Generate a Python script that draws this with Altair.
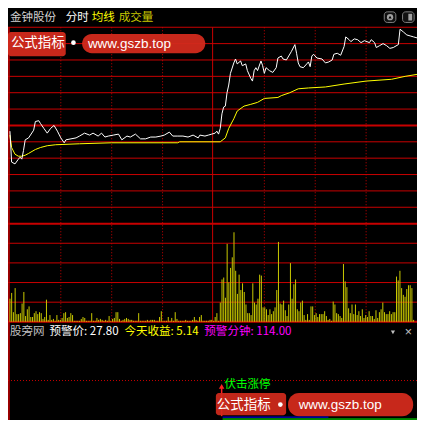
import altair as alt
import pandas as pd
import numpy as np

# ---------------- data ----------------
# minutes since 9:30 (0..240, lunch break removed) and % change vs. previous close
price_min = [0, 1, 3, 5, 6, 7, 8, 9, 11, 14, 15, 17, 18, 20, 22, 24, 26, 28, 30, 32,
             33, 36, 39, 41, 44, 47, 49, 52, 54, 56, 58, 61, 64, 66, 69, 71, 74, 77, 80, 83,
             86, 89, 91, 94, 96, 99, 102, 105, 108, 111, 112, 115, 117, 119, 121, 122, 123, 124, 125, 126,
             127, 128, 129, 130, 132, 133, 134, 136, 137, 139, 140, 142, 143, 144, 145, 146, 148, 149, 150, 151,
             153, 155, 157, 158, 160, 161, 163, 166, 168, 169, 170, 171, 173, 175, 176, 177, 178, 179, 181, 184,
             186, 188, 190, 191, 193, 195, 197, 198, 200, 201, 203, 205, 207, 209, 212, 213, 215, 216, 218, 220,
             222, 224, 226, 229, 230, 232, 234, 236, 238, 240]
price_pct = [-0.35, -2.24, -2.35, -2.06, -1.94, -2.06, -1.53, -0.88, -0.76, -0.29, 0.24, 0.29, 0.12, -0.18, -0.47, -0.18, 0.0, -0.35, -0.76, -1.06,
             -0.88, -0.82, -0.76, -0.65, -0.47, -0.59, -0.47, -0.65, -0.47, -0.71, -0.65, -0.59, -0.53, -0.88, -0.65, -0.71, -0.53, -0.82, -0.82, -0.71,
             -0.71, -0.65, -0.59, -0.41, -0.65, -0.65, -0.65, -0.71, -0.59, -0.76, -0.59, -0.65, -0.59, -0.53, -0.47, -0.35, -0.53, -0.18, 0.71, 1.12,
             1.18, 2.0, 2.47, 3.18, 3.82, 4.06, 3.76, 3.94, 3.65, 3.76, 3.35, 2.88, 2.71, 3.35, 3.53, 3.35, 3.94, 3.65, 3.18, 3.53,
             3.35, 3.24, 3.53, 4.12, 4.24, 4.06, 4.0, 4.53, 4.94, 4.41, 3.82, 3.59, 3.53, 3.76, 3.88, 3.59, 4.24, 4.35, 4.12, 4.06,
             3.82, 3.88, 4.0, 4.35, 4.41, 4.29, 4.82, 5.41, 5.24, 5.12, 5.29, 5.24, 5.06, 5.18, 5.06, 5.24, 5.06, 4.76, 4.88, 5.0,
             4.88, 4.71, 4.76, 4.94, 5.88, 5.71, 5.53, 5.47, 5.41, 5.35]

avg_min = [0, 1, 3, 5, 7, 9, 11, 15, 18, 22, 27, 41, 60, 99, 100, 124, 127, 129, 132, 134,
           138, 142, 146, 150, 158, 160, 165, 170, 176, 186, 197, 210, 225, 233, 240]
avg_pct = [-0.59, -1.35, -1.76, -1.88, -1.88, -1.82, -1.71, -1.47, -1.35, -1.24, -1.18, -1.12, -1.06, -1.06, -1.0, -1.0, -0.76, -0.18, 0.41, 0.88,
           1.18, 1.29, 1.41, 1.65, 1.71, 1.82, 2.0, 2.24, 2.29, 2.35, 2.53, 2.71, 2.82, 3.0, 3.12]

am_vol = [24, 30, 10, 35, 8, 8, 9, 19, 31, 6,
          13, 16, 5, 5, 9, 11, 8, 10, 9, 3,
          5, 23, 2, 7, 2, 3, 1, 7, 2, 2,
          4, 9, 10, 4, 5, 9, 7, 1, 1, 1, 1,
          3, 5, 4, 1, 1, 1, 9, 1, 1, 4, 2,
          3, 2, 1, 2, 1, 6, 1, 3, 4, 10, 10,
          3, 1, 2, 3, 4, 3, 2, 2, 1, 1,
          1, 9, 1, 1, 1, 1, 2, 1, 2, 2,
          2, 1, 1, 5, 11, 1, 1, 1, 5, 1, 4,
          1, 10, 3, 1, 1, 1, 1, 2, 1, 1,
          1, 2, 5, 2, 1, 5, 7, 1, 1, 1, 1, 2, 2]
pm_vol = [1, 5, 9, 1, 20, 44, 46, 25, 81, 41,
          56, 67, 93, 53, 29, 49, 33, 40, 31, 18,
          9, 9, 7, 40, 20, 18, 24, 49, 48, 15,
          15, 13, 7, 13, 8, 11, 15, 33, 83, 19,
          18, 22, 12, 6, 18, 61, 24, 39, 44, 13,
          11, 20, 22, 7, 2, 8, 2, 16, 16, 7,
          9, 5, 8, 8, 8, 11, 6, 2, 3, 1,
          21, 18, 9, 8, 6, 4, 60, 42, 36, 14,
          9, 18, 8, 18, 7, 11, 6, 13, 4, 7,
          5, 11, 6, 6, 3, 12, 4, 10, 13, 20,
          10, 8, 8, 11, 8, 10, 10, 47, 43, 53,
          35, 28, 26, 34, 38, 38, 35, 2]

stock_name = "金钟股份"
header_labels = ["分时", "均线", "成交量"]
warn_price = "27.80"
today_gain = "5.14"
warn_minutes = "114.00"
signal_label = "伏击涨停"
wm_label = "公式指标"
wm_url = "www.gszb.top"

# ---------------- layout ----------------
W, H = 409, 412
SX, SY = W / 425, H / 428


def X(v):
    return v * SX


def Y(v):
    return v * SY


CJK = "Noto Sans CJK SC"
LAT = "Liberation Sans"
RED = "#c80000"

tscale = alt.Scale(domain=[-2 * 240 / 423, 240], nice=False, zero=False)
pscale = alt.Scale(domain=[(122 - 428) / 17, 122 / 17], nice=False, zero=False)
vscale = alt.Scale(domain=[-(428 - 326), 326], nice=False, zero=False)

one = pd.DataFrame({"a": [0]})
layers = []

# horizontal grid of price panel (1 grid = 1 %)
thin_levels = pd.DataFrame({"p": [-5, -4, -3, -2, -1, 1, 2, 3, 4, 5, 6]})
thick_levels = pd.DataFrame({"p": [0, -6]})
layers.append(alt.Chart(thin_levels).mark_rule(color=RED, strokeWidth=1).encode(
    y=alt.Y("p:Q", scale=pscale, axis=None), x=alt.value(0), x2=alt.value(W)))
layers.append(alt.Chart(thick_levels).mark_rule(color=RED, strokeWidth=2).encode(
    y=alt.Y("p:Q", scale=pscale, axis=None), x=alt.value(0), x2=alt.value(W)))

# volume panel grid
vol_levels = pd.DataFrame({"v": [20.4, 40.8, 61.2, 81.6]})
layers.append(alt.Chart(vol_levels).mark_rule(color=RED, strokeWidth=1).encode(
    y=alt.Y("v:Q", scale=vscale, axis=None), x=alt.value(0), x2=alt.value(W)))
layers.append(alt.Chart(pd.DataFrame({"v": [0]})).mark_rule(color=RED, strokeWidth=2).encode(
    y=alt.Y("v:Q", scale=vscale, axis=None), x=alt.value(0), x2=alt.value(W)))

# vertical time lines
layers.append(alt.Chart(pd.DataFrame({"t": [30, 60, 90, 150, 180, 210]})).mark_rule(
    color=RED, strokeWidth=1, strokeDash=[1, 2]).encode(
    x=alt.X("t:Q", scale=tscale, axis=None), y=alt.value(Y(20)), y2=alt.value(Y(326))))
layers.append(alt.Chart(pd.DataFrame({"t": [119.5]})).mark_rule(color=RED, strokeWidth=1).encode(
    x=alt.X("t:Q", scale=tscale, axis=None), y=alt.value(Y(20)), y2=alt.value(Y(326))))

# left border and lower dotted line
layers.append(alt.Chart(one).mark_rule(color=RED, strokeWidth=1.5).encode(
    x=alt.value(X(1)), y=alt.value(Y(20)), y2=alt.value(H)))
layers.append(alt.Chart(one).mark_rule(color=RED, strokeWidth=1, strokeDash=[1, 2]).encode(
    x=alt.value(0), x2=alt.value(W), y=alt.value(Y(387))))

# volume bars
vol_df = pd.DataFrame({
    "t": np.concatenate([np.linspace(0, 119, len(am_vol)), np.linspace(120, 238, len(pm_vol))]),
    "v": am_vol + pm_vol,
})
vol_df["z"] = 0
layers.append(alt.Chart(vol_df).mark_rule(color="#c8c800", strokeWidth=1).encode(
    x=alt.X("t:Q", scale=tscale, axis=None),
    y=alt.Y("v:Q", scale=vscale, axis=None), y2="z:Q"))

# average line and price line
avg_df = pd.DataFrame({"t": avg_min, "p": avg_pct})
layers.append(alt.Chart(avg_df).mark_line(color="#ffff00", strokeWidth=1).encode(
    x=alt.X("t:Q", scale=tscale, axis=None), y=alt.Y("p:Q", scale=pscale, axis=None)))
price_df = pd.DataFrame({"t": price_min, "p": price_pct})
layers.append(alt.Chart(price_df).mark_line(color="#ffffff", strokeWidth=1).encode(
    x=alt.X("t:Q", scale=tscale, axis=None), y=alt.Y("p:Q", scale=pscale, axis=None)))


def label(txt, x, y, color, size=12, font=CJK, align="left"):
    return alt.Chart(pd.DataFrame({"s": [txt]})).mark_text(
        align=align, baseline="middle", color=color, fontSize=size * SX, font=font).encode(
        text="s:N", x=alt.value(X(x)), y=alt.value(Y(y)))


def box(x1, x2, y1, y2, fill, radius=0, stroke=None, opacity=1.0):
    kw = dict(fill=fill, cornerRadius=radius, opacity=opacity)
    if stroke:
        kw.update(stroke=stroke, strokeWidth=1)
    return alt.Chart(one).mark_rect(**kw).encode(
        x=alt.value(X(x1)), x2=alt.value(X(x2)), y=alt.value(Y(y1)), y2=alt.value(Y(y2)))


# header
layers.append(label(stock_name, 2, 10, "#d0d0d0", 12))
layers.append(label(header_labels[0], 60, 10, "#ffffff", 12))
layers.append(label(header_labels[1], 87, 10, "#ffff00", 12))
layers.append(label(header_labels[2], 115, 10, "#c8c800", 12))

# icons at top right
layers.append(box(391, 403, 4, 15, "#101010", 3, "#808080"))
layers.append(alt.Chart(one).mark_circle(color="#a0a0a0", opacity=1, size=40).encode(
    x=alt.value(X(397)), y=alt.value(Y(9.5))))
layers.append(alt.Chart(one).mark_point(shape="triangle-up", filled=True, color="#000000", opacity=1, size=10).encode(
    x=alt.value(X(397)), y=alt.value(Y(9.5))))
layers.append(box(410, 422, 4, 15, "#101010", 3, "#808080"))
layers.append(box(416, 420, 6, 13, "#a0a0a0"))

# top watermark
WM = "#d22a1c"
layers.append(box(0, 60, 25, 50, WM, 3, None, 0.95))
layers.append(label(wm_label, 3, 36, "#ffffff", 14))
layers.append(alt.Chart(one).mark_circle(color="#ffffff", opacity=1, size=22).encode(
    x=alt.value(X(68)), y=alt.value(Y(36))))
layers.append(box(77, 205, 27, 47, WM, 10, None, 0.95))
layers.append(label(wm_url, 83, 37, "#ffffff", 14, LAT))

# lower panel text row
layers.append(label("股旁网", 2, 337, "#c0c0c0", 12))
layers.append(label("预警价: " + warn_price, 43, 337, "#ffffff", 12))
layers.append(label("今天收益: " + today_gain, 121, 337, "#ffff00", 12))
layers.append(label("预警分钟: " + warn_minutes, 204, 337, "#ff00ff", 12))
layers.append(alt.Chart(one).mark_point(shape="triangle-down", filled=True, color="#c0c0c0", opacity=1, size=18).encode(
    x=alt.value(X(400)), y=alt.value(Y(337))))
layers.append(label("×", 416, 337, "#c0c0c0", 13, LAT, "center"))

# signal arrow and label
layers.append(alt.Chart(one).mark_rule(color="#ff2020", strokeWidth=1.5).encode(
    x=alt.value(X(222)), y=alt.value(Y(394)), y2=alt.value(Y(424))))
layers.append(alt.Chart(one).mark_point(shape="triangle-up", filled=True, color="#ff2020", opacity=1, size=30).encode(
    x=alt.value(X(222)), y=alt.value(Y(393))))
layers.append(label(signal_label, 225, 392, "#00ff00", 12))

# bottom watermark
layers.append(box(216, 289, 400, 423, WM, 3, None, 0.92))
layers.append(label(wm_label, 217, 412, "#ffffff", 14))
layers.append(alt.Chart(one).mark_circle(color="#ffffff", opacity=1, size=22).encode(
    x=alt.value(X(283)), y=alt.value(Y(412))))
layers.append(box(291, 421, 400, 424, WM, 11, None, 0.95))
layers.append(label(wm_url, 302, 412, "#ffffff", 14, LAT))

# bottom coloured baselines
layers.append(alt.Chart(one).mark_rule(color="#0000ff", strokeWidth=1).encode(
    x=alt.value(X(223)), x2=alt.value(X(333)), y=alt.value(Y(425))))
layers.append(alt.Chart(one).mark_rule(color="#00ff00", strokeWidth=1).encode(
    x=alt.value(X(223)), x2=alt.value(W), y=alt.value(Y(427))))

chart = alt.layer(*layers).resolve_scale(x="independent", y="independent").properties(
    width=W, height=H, padding=0, background="#000000",
    autosize=alt.AutoSizeParams(type="none"),
).configure_view(stroke=None, fill="#000000")

chart.save("out.html", embed_options={"renderer": "svg", "actions": False})
